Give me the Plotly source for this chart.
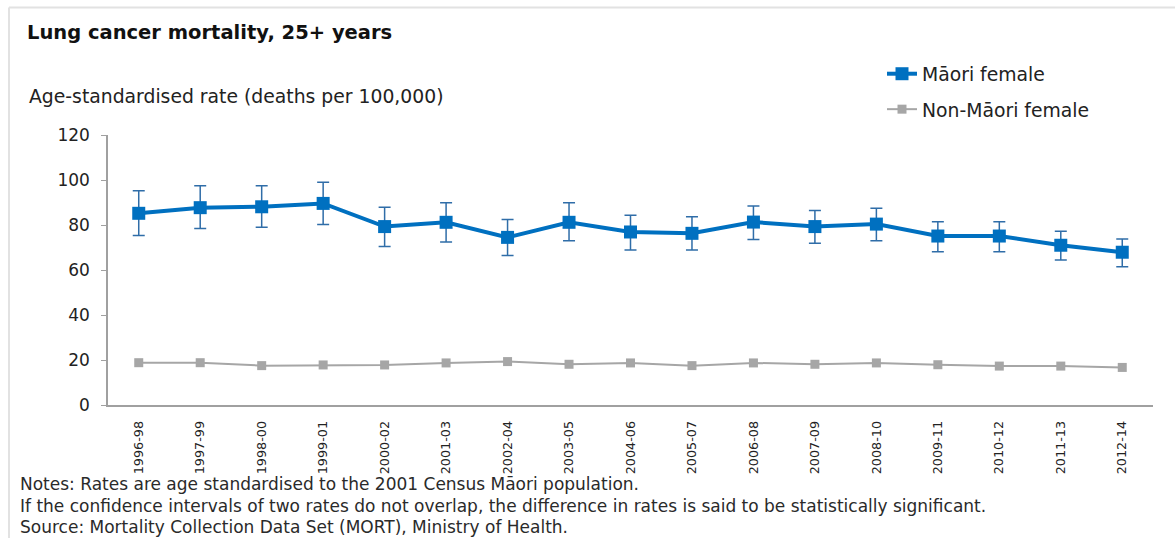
import plotly.graph_objects as go

categories = ["1996-98", "1997-99", "1998-00", "1999-01", "2000-02", "2001-03",
              "2002-04", "2003-05", "2004-06", "2005-07", "2006-08", "2007-09",
              "2008-10", "2009-11", "2010-12", "2011-13", "2012-14"]
maori_rate = [85.2, 87.7, 88.1, 89.6, 79.3, 81.2, 74.5, 81.2, 76.9, 76.3, 81.3,
              79.3, 80.4, 75.1, 75.1, 71.0, 67.9]
maori_upper = [95.2, 97.5, 97.5, 99.0, 87.9, 89.9, 82.5, 89.9, 84.3, 83.7, 88.4,
               86.4, 87.4, 81.5, 81.5, 77.2, 73.8]
maori_lower = [75.3, 78.4, 79.0, 80.2, 70.5, 72.4, 66.4, 73.0, 68.9, 68.9, 73.6,
               71.9, 73.0, 68.1, 68.1, 64.4, 61.5]
nonmaori_rate = [18.8, 18.8, 17.5, 17.8, 17.8, 18.7, 19.3, 18.1, 18.7, 17.5, 18.7,
                 18.1, 18.7, 17.9, 17.3, 17.3, 16.7]
y_ticks = [0, 20, 40, 60, 80, 100, 120]

title_text = "Lung cancer mortality, 25+ years"
ytitle_text = "Age-standardised rate (deaths per 100,000)"
notes = [
    "Notes: Rates are age standardised to the 2001 Census Māori population.",
    "If the confidence intervals of two rates do not overlap, the difference in rates is said to be statistically significant.",
    "Source: Mortality Collection Data Set (MORT), Ministry of Health.",
]

W, H = 1175, 538
L, R, T, B = 108, 22, 135, 133
PW, PH = W - L - R, H - T - B

def px_x(x):
    return (x - L) / PW

def px_y(y):
    return (H - B - y) / PH

FONT = "DejaVu Sans"
BLUE = "#0070C0"
GREY = "#A6A6A6"

err_plus = [u - v for u, v in zip(maori_upper, maori_rate)]
err_minus = [v - l for v, l in zip(maori_rate, maori_lower)]

fig = go.Figure()
fig.add_trace(go.Scatter(
    x=categories, y=maori_rate, name="Māori female", mode="lines+markers",
    line=dict(color=BLUE, width=4),
    marker=dict(symbol="square", size=13, color=BLUE),
    error_y=dict(type="data", array=err_plus, arrayminus=err_minus,
                 color="#2F6DA8", thickness=1.5, width=6),
    legendgroup="a",
))
fig.add_trace(go.Scatter(
    x=categories, y=nonmaori_rate, name="Non-Māori female", mode="lines+markers",
    line=dict(color=GREY, width=2),
    marker=dict(symbol="square", size=9, color=GREY),
    legendgroup="b",
))

annotations = [
    dict(text=ytitle_text, xref="paper", yref="paper", x=px_x(27), y=px_y(97),
         xanchor="left", yanchor="middle", showarrow=False,
         font=dict(family=FONT, size=18.8, color="#222222")),
]
note_y = [484, 506, 527]
for t, yy in zip(notes, note_y):
    annotations.append(dict(text=t, xref="paper", yref="paper", x=px_x(18), y=px_y(yy),
                            xanchor="left", yanchor="middle", showarrow=False,
                            font=dict(family=FONT, size=17, color="#2a2a2a")))

shapes = [
    dict(type="line", xref="paper", yref="paper", x0=px_x(9), x1=px_x(1175),
         y0=px_y(7.5), y1=px_y(7.5), line=dict(color="#E2E2E2", width=2)),
    dict(type="line", xref="paper", yref="paper", x0=px_x(9), x1=px_x(9),
         y0=px_y(7.5), y1=px_y(538), line=dict(color="#E2E2E2", width=2)),
]

fig.update_layout(
    width=W, height=H,
    margin=dict(l=L, r=R, t=T, b=B, autoexpand=False),
    paper_bgcolor="white", plot_bgcolor="white",
    title=dict(text="<b>" + title_text + "</b>", xref="container", yref="container",
               x=27 / W, y=1 - 32 / H, xanchor="left", yanchor="middle",
               font=dict(family=FONT, size=19.5, color="#111111")),
    xaxis=dict(type="category", showgrid=False, showline=True, linecolor="#A0A0A0",
               linewidth=1.5, ticks="", tickangle=-90, ticklabelstandoff=9,
               tickfont=dict(family=FONT, size=12.8, color="#222222"),
               range=[-0.5, len(categories) - 0.5]),
    yaxis=dict(range=[0, 120], tickvals=y_ticks, showgrid=False, showline=True,
               linecolor="#A0A0A0", linewidth=1.5, ticks="outside", ticklen=5,
               tickcolor="#A0A0A0", ticklabelstandoff=8, zeroline=False,
               tickfont=dict(family=FONT, size=17, color="#222222")),
    legend=dict(x=px_x(882), y=px_y(55), xanchor="left", yanchor="top",
                bgcolor="rgba(0,0,0,0)", tracegroupgap=8,
                font=dict(family=FONT, size=18.8, color="#222222")),
    annotations=annotations,
    shapes=shapes,
)

fig.write_html("out.html")
